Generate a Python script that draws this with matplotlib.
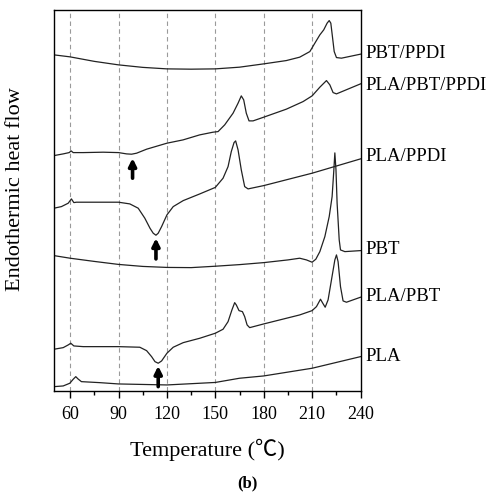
import numpy as np
import matplotlib
matplotlib.use("Agg")
import matplotlib.pyplot as plt
from matplotlib.ticker import MultipleLocator

plt.rcParams['font.family'] = ['Liberation Serif', 'Noto Sans CJK SC', 'DejaVu Sans']

# DSC curves, heat flow in arbitrary units (offset curves)
t_pbt_ppdi = [50, 60, 75, 90, 105, 120, 135, 150, 165, 180, 194, 202.3, 208.6, 211.7,
              214.8, 217.2, 219.3, 220.6, 221.6, 222.6, 223.7, 225.1, 228.2, 240]
h_pbt_ppdi = [336, 334, 329.5, 326, 323.5, 322, 321.7, 322, 323.7, 327, 330.3, 333.7,
              339.3, 347.7, 356, 361, 367.7, 370.3, 367.7, 354.3, 339.3, 333.3, 332.7, 336.7]

t_pla_pbt_ppdi = [50, 55.7, 59.4, 60.6, 61.9, 68.1, 80.5, 90, 95, 98.1, 101.2, 107.4, 120,
                  130, 140.3, 148.6, 151.7, 155.8, 161, 164.1, 166.1, 167.6, 169.2, 170.9,
                  173.4, 180, 194, 204.4, 210, 214.8, 218.9, 221, 223, 225.1, 240]
h_pla_pbt_ppdi = [235.3, 237, 238.3, 240, 238.3, 238.3, 238.7, 238.3, 237, 236.7, 237.7,
                  241.7, 247.7, 251, 256, 258.7, 259.3, 266, 277.7, 287.7, 295, 291, 277.7,
                  270, 270, 273.7, 281.7, 289.3, 295, 303.7, 310.3, 306, 298.3, 297, 307]

t_pla_ppdi = [50, 54.6, 58.8, 60.8, 62.3, 63.9, 78.4, 90, 97, 102.2, 106.3, 109.5, 111.5,
              113.2, 114.6, 116.7, 120, 123.9, 130.1, 140.4, 150, 154.8, 157.9, 159.9,
              161.6, 162.6, 164.1, 166.1, 168.2, 170.3, 180, 210, 240]
h_pla_ppdi = [182.7, 184.3, 187.7, 192, 188.3, 188.7, 188.7, 188.7, 187, 182.7, 172.7,
              162.7, 157.7, 155.7, 157.7, 164.3, 176, 184.3, 190.3, 197, 203.5, 212.7,
              224.3, 239.3, 248.3, 250, 241, 221, 204.3, 202, 205.3, 217.7, 232]

t_pbt = [50, 60, 75, 90, 105, 120, 135, 150, 165, 180, 195, 202.3, 206.5, 210, 212.3,
         214.8, 217.9, 220.6, 222.4, 223.4, 224.1, 224.8, 225.5, 226.8, 227.6, 230.3, 240]
h_pbt = [135.3, 132.7, 129.5, 126.5, 124.5, 123.5, 123.3, 124.7, 126.3, 128.3, 131, 132.7,
         131, 128.7, 131.7, 139.3, 154.3, 174.3, 194.3, 219, 238, 221, 187.7, 151, 141,
         139.3, 140.3]

t_pla_pbt = [50, 55.7, 58.8, 60.4, 62.3, 68.1, 90, 103.2, 107.4, 110.5, 112.6, 114.6,
             116.7, 120, 123.9, 130.1, 140.4, 150, 154.8, 157.9, 160.3, 162, 163, 164.7,
             166.8, 168.2, 169.7, 171.3, 180, 202.3, 210, 212.7, 215.2, 216.4, 218.1,
             219.9, 222, 224.1, 225.1, 226.1, 227.6, 229.2, 231.3, 240]
h_pla_pbt = [41.7, 43.3, 46, 47.7, 45, 44.3, 44.3, 43.7, 40.3, 34.3, 29.3, 27.7, 30, 37.7,
             43.7, 48.3, 52.7, 57.7, 61.7, 69.3, 81, 88.3, 86, 80.3, 79.3, 74.3, 66, 63.3,
             67, 76, 80.3, 84.3, 91.7, 88.3, 83.7, 91, 111, 131, 136, 129.3, 104.3, 90,
             88.7, 93.7]

t_pla = [50, 55.7, 59.8, 61.9, 63.5, 64.9, 67, 78.4, 90, 120, 150, 165, 180, 210, 240]
h_pla = [4.3, 5, 7.7, 11.7, 14.3, 12, 9.3, 8.3, 7, 6, 8.5, 12.7, 15, 22.7, 34.3]

curve_names = ["PBT/PPDI", "PLA/PBT/PPDI", "PLA/PPDI", "PBT", "PLA/PBT", "PLA"]
curve_t = [t_pbt_ppdi, t_pla_pbt_ppdi, t_pla_ppdi, t_pbt, t_pla_pbt, t_pla]
curve_h = [h_pbt_ppdi, h_pla_pbt_ppdi, h_pla_ppdi, h_pbt, h_pla_pbt, h_pla]
label_h = [337, 305, 234, 141, 94, 34]

# crystallization arrows: (temperature, base, tip)
arrow_t = [98.7, 113.2, 114.6]
arrow_base = [212.7, 132, 4.3]
arrow_tip = [232.7, 152.7, 25]

fig = plt.figure(figsize=(5, 4.93), dpi=100)
ax = fig.add_axes([0.108, 0.207, 0.613, 0.773])

for x in range(60, 240, 30):
    ax.axvline(x, color="#9a9a9a", lw=0.8, ls=(0, (4, 3)), zorder=0)

for name, t, h, lh in zip(curve_names, curve_t, curve_h, label_h):
    ax.plot(t, h, color="#222222", lw=0.9, solid_joinstyle="round")
    ax.text(1.017, lh / 381, name, transform=ax.transAxes,
            ha="left", va="center", fontsize=13.5)

for t, b, tip in zip(arrow_t, arrow_base, arrow_tip):
    ax.annotate("", xy=(t, tip), xytext=(t, b),
                arrowprops=dict(arrowstyle="-|>", lw=2.6, color="k",
                                mutation_scale=11, shrinkA=0, shrinkB=0))

ax.set_xlim(50, 240)
ax.set_ylim(0, 381)
ax.xaxis.set_major_locator(MultipleLocator(30))
ax.xaxis.set_minor_locator(MultipleLocator(15))
ax.set_xticks(range(60, 241, 30))
ax.tick_params(axis="x", which="major", direction="out", length=5, width=1,
               labelsize=13, pad=6)
ax.tick_params(axis="x", which="minor", direction="out", length=3, width=1)
ax.set_yticks([])
for s in ax.spines.values():
    s.set_linewidth(1.0)

ax.set_xlabel("Temperature (\u2103)", fontsize=16, labelpad=11)
ax.set_ylabel("Endothermic heat flow", fontsize=16)
ax.yaxis.set_label_coords(-0.095, 0.53)

fig.text(0.494, 0.02, "(b)", ha="center", va="center", fontsize=12, fontweight="bold")

fig.savefig("out.png", dpi=100)
